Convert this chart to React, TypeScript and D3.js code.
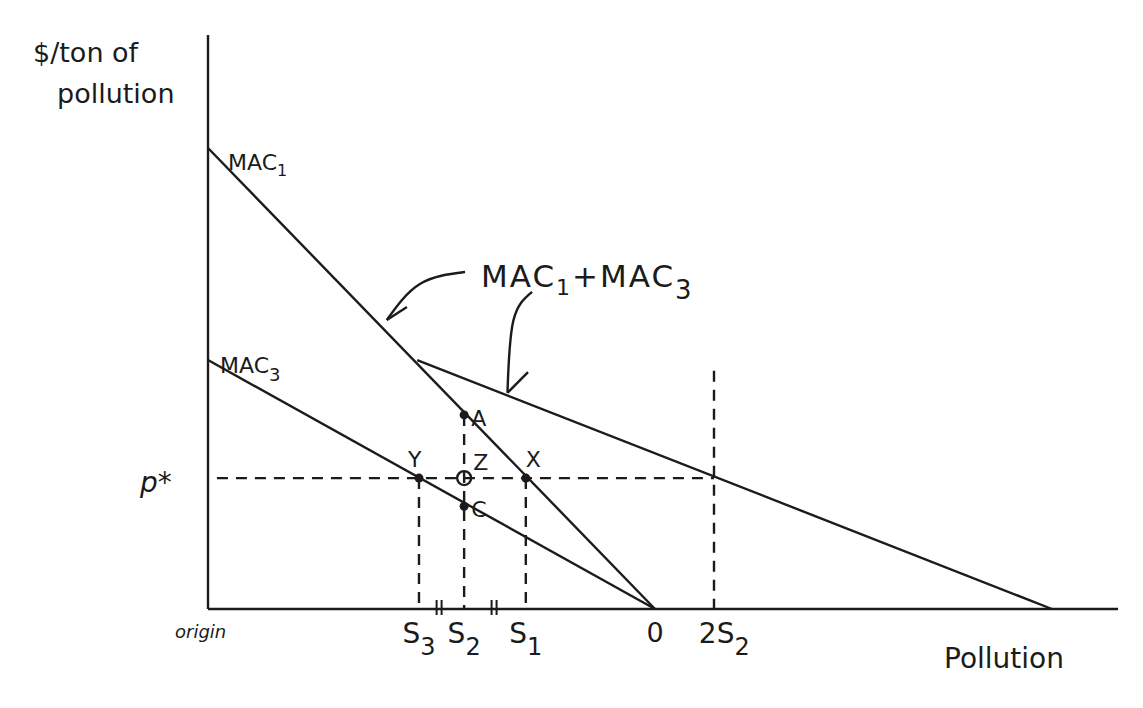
import React from "react";
import * as d3 from "d3";

// Data (pollution units on x, $/ton on y)
const mac1 = [ { q: 0, p: 100 }, { q: 100, p: 0 } ];
const mac3 = [ { q: 0, p: 54 }, { q: 100, p: 0 } ];
const macSum = [ { q: 46.8, p: 54 }, { q: 188.8, p: 0 } ];
const pStar = 28.4;
const sLabels = [
  { name: "S", sub: "3", q: 47.2 },
  { name: "S", sub: "2", q: 57.3 },
  { name: "S", sub: "1", q: 71.1 },
  { name: "2S", sub: "2", q: 115.5 },
];
const zeroQ = 100;
const pointsFilled = [
  { label: "Y", q: 47.2, p: 28.4 },
  { label: "X", q: 71.1, p: 28.4 },
  { label: "A", q: 57.3, p: 42.1 },
  { label: "C", q: 57.3, p: 22.3 },
];
const pointZ = { label: "Z", q: 57.3, p: 28.4 };
const hashMarks = [51.7, 64.0];
const arrow1 = [ [57.5, 73.1], [47.4, 70.5], [40.0, 62.7] ];
const arrow1Head = [40.0, 62.7, 44.5, 65.5];
const arrow2 = [ [72.5, 68.8], [68.3, 62.5], [67.0, 46.9] ];
const arrow2Head = [67.0, 46.9, 71.6, 51.4];

const W = 1143, H = 708;
const x = d3.scaleLinear().domain([0, 100]).range([208, 655]);
const y = d3.scaleLinear().domain([0, 100]).range([609, 148]);
const ink = "#1b1b1b";
const font = "'DejaVu Sans', sans-serif";

export default function App() {
  const line = d3.line<number[]>().x(d => x(d[0])).y(d => y(d[1])).curve(d3.curveNatural);
  const dash = "11,8";
  const sw = 2.4;
  return (
    <div style={{ position: "absolute", left: 0, top: 0 }}>
      <svg width={W} height={H} style={{ display: "block", background: "#fff" }}>
        {/* axes */}
        <line x1={x(0)} y1={y(0)} x2={x(0)} y2={y(124.5)} stroke={ink} strokeWidth={sw} />
        <line x1={x(0)} y1={y(0)} x2={x(203.6)} y2={y(0)} stroke={ink} strokeWidth={sw} />
        {/* curves */}
        {[mac1, mac3, macSum].map((l, i) => (
          <line key={i} x1={x(l[0].q)} y1={y(l[0].p)} x2={x(l[1].q)} y2={y(l[1].p)} stroke={ink} strokeWidth={sw} />
        ))}
        {/* p* dashed */}
        <line x1={x(2)} y1={y(pStar)} x2={x(113.2)} y2={y(pStar)} stroke={ink} strokeWidth={sw} strokeDasharray={dash} />
        {/* vertical dashed */}
        <line x1={x(47.2)} y1={y(pStar)} x2={x(47.2)} y2={y(0)} stroke={ink} strokeWidth={sw} strokeDasharray={dash} />
        <line x1={x(57.3)} y1={y(42.1)} x2={x(57.3)} y2={y(0)} stroke={ink} strokeWidth={sw} strokeDasharray={dash} />
        <line x1={x(71.1)} y1={y(pStar)} x2={x(71.1)} y2={y(0)} stroke={ink} strokeWidth={sw} strokeDasharray={dash} />
        <line x1={x(113.2)} y1={y(51.7)} x2={x(113.2)} y2={y(0)} stroke={ink} strokeWidth={sw} strokeDasharray={dash} />
        {/* hash marks */}
        {hashMarks.map((h, i) => (
          <g key={i}>
            <line x1={x(h) - 2.5} y1={y(0) - 9} x2={x(h) - 2.5} y2={y(0) + 6} stroke={ink} strokeWidth={2} />
            <line x1={x(h) + 2.5} y1={y(0) - 9} x2={x(h) + 2.5} y2={y(0) + 6} stroke={ink} strokeWidth={2} />
          </g>
        ))}
        {/* points */}
        {pointsFilled.map((d, i) => (
          <circle key={i} cx={x(d.q)} cy={y(d.p)} r={4.5} fill={ink} />
        ))}
        <circle cx={x(pointZ.q)} cy={y(pointZ.p)} r={7} fill="none" stroke={ink} strokeWidth={2.4} />
        {/* arrows */}
        <path d={line(arrow1) || ""} fill="none" stroke={ink} strokeWidth={sw} />
        <line x1={x(arrow1Head[0])} y1={y(arrow1Head[1])} x2={x(arrow1Head[2])} y2={y(arrow1Head[3])} stroke={ink} strokeWidth={sw} />
        <path d={line(arrow2) || ""} fill="none" stroke={ink} strokeWidth={sw} />
        <line x1={x(arrow2Head[0])} y1={y(arrow2Head[1])} x2={x(arrow2Head[2])} y2={y(arrow2Head[3])} stroke={ink} strokeWidth={sw} />
        {/* text */}
        <g fontFamily={font} fill={ink}>
          <text x={33} y={62} fontSize={27}>$/ton of</text>
          <text x={57} y={103} fontSize={27}>pollution</text>
          <text x={228} y={170} fontSize={22}>MAC<tspan fontSize={16} dy={6}>1</tspan></text>
          <text x={220} y={373} fontSize={22}>MAC<tspan fontSize={18} dy={8}>3</tspan></text>
          <text x={481} y={287} fontSize={31} letterSpacing={2}>MAC<tspan fontSize={22} dy={8}>1</tspan><tspan dy={-8}>+MAC</tspan><tspan fontSize={26} dy={12}>3</tspan></text>
          <text x={140} y={492} fontSize={28} fontStyle="italic">p*</text>
          <text x={175} y={638} fontSize={18} fontStyle="italic">origin</text>
          <text x={944} y={668} fontSize={28}>Pollution</text>
          {sLabels.map((s, i) => (
            <text key={i} x={x(s.q)} y={643} fontSize={28} textAnchor="middle">{s.name}<tspan fontSize={24} dy={12}>{s.sub}</tspan></text>
          ))}
          <text x={x(zeroQ)} y={642} fontSize={27} textAnchor="middle">0</text>
          {pointsFilled.map((d, i) => {
            const off = d.label === "Y" ? [-11, -11] : d.label === "X" ? [0, -11] : [7, 11];
            return <text key={i} x={x(d.q) + off[0]} y={y(d.p) + off[1]} fontSize={22}>{d.label}</text>;
          })}
          <text x={x(pointZ.q) + 9} y={y(pointZ.p) - 8} fontSize={22}>{pointZ.label}</text>
        </g>
      </svg>
    </div>
  );
}
